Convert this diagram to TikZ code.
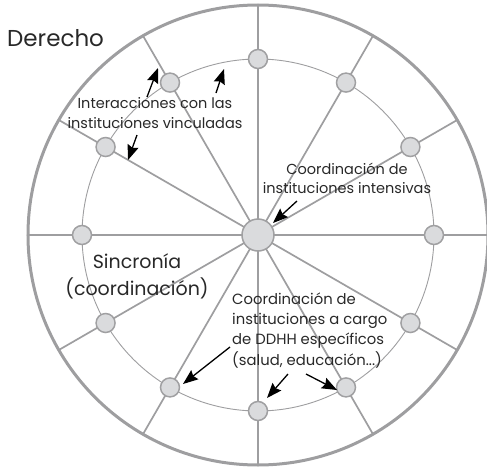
\documentclass[tikz,border=0pt]{standalone}
\usepackage{fontspec}
\setmainfont{Poppins}
\usetikzlibrary{arrows.meta}
\definecolor{linegray}{RGB}{158,158,160}
\definecolor{nodefill}{RGB}{218,219,221}
\definecolor{nodeline}{RGB}{160,160,162}
\definecolor{txt}{RGB}{40,40,40}
\tikzset{
  outerring/.style={draw=linegray, line width=3pt},
  innerring/.style={draw=linegray, line width=0.9pt},
  spoke/.style={draw=linegray, line width=1.7pt},
  dot/.style={circle, draw=nodeline, fill=nodefill, line width=1.5pt, minimum size=19pt, inner sep=0pt},
  hub/.style={circle, draw=nodeline, fill=nodefill, line width=1.5pt, minimum size=32pt, inner sep=0pt},
  lbl/.style={text=txt, inner sep=0pt},
  pointer/.style={draw=black, line width=1.3pt, -{Stealth[length=15pt,width=11.5pt,inset=2pt]}},
}
\begin{document}
\begin{tikzpicture}[x=1pt,y=1pt]
\useasboundingbox (-258,235) rectangle (229,-234);
\draw[outerring] (0,0) circle (230);
\draw[innerring] (0,0) circle (176);
\coordinate (c0) at (0,0);
\foreach \i in {0,...,11}{
  \coordinate (p\i) at (\i*30:176);
  \coordinate (o\i) at (\i*30:230);
}
\foreach \i in {0,...,11}{ \draw[spoke] (c0) -- (o\i); }
\node[hub] (c) at (c0) {};
\foreach \i in {0,...,11}{ \node[dot] (n\i) at (p\i) {}; }

% labels
\node[lbl, anchor=base west, font=\fontsize{23}{27}\selectfont] (der) at (-251,188) {Derecho};
\node[lbl, align=center, anchor=north, font=\fontsize{14.5}{20}\selectfont] (inter) at (-103,137.5) {Interacciones con las\\instituciones vinculadas};
\node[lbl, align=center, anchor=north, font=\fontsize{14.5}{19}\selectfont] (intens) at (89,72) {Coordinación de\\instituciones intensivas};
\node[lbl, align=center, anchor=north, font=\fontsize{19}{27}\selectfont] (sinc) at (-121,-18.5) {Sincronía\\(coordinación)};
\node[lbl, align=left, anchor=north west, font=\fontsize{14.8}{20.3}\selectfont] (ddhh) at (-26,-57.5) {Coordinación de\\instituciones a cargo\\de DDHH específicos\\(salud, educación...)};

% arrows
\coordinate (a1s) at (-111,138); \coordinate (a1e) at (-100,167);
\coordinate (a2s) at (-42,142);  \coordinate (a2e) at (-34,166);
\coordinate (a3s) at (-121,100); \coordinate (a3e) at (-130,75);
\coordinate (a4s) at (39,34);    \coordinate (a4e) at (15,12);
\coordinate (a5s) at (-28,-112); \coordinate (a5e) at (-75,-149);
\coordinate (a6s) at (30,-139);  \coordinate (a6e) at (9,-163);
\coordinate (a7s) at (48,-139);  \coordinate (a7e) at (79,-155);
\foreach \k in {1,...,7}{ \draw[pointer] (a\k s) -- (a\k e); }
\end{tikzpicture}
\end{document}
